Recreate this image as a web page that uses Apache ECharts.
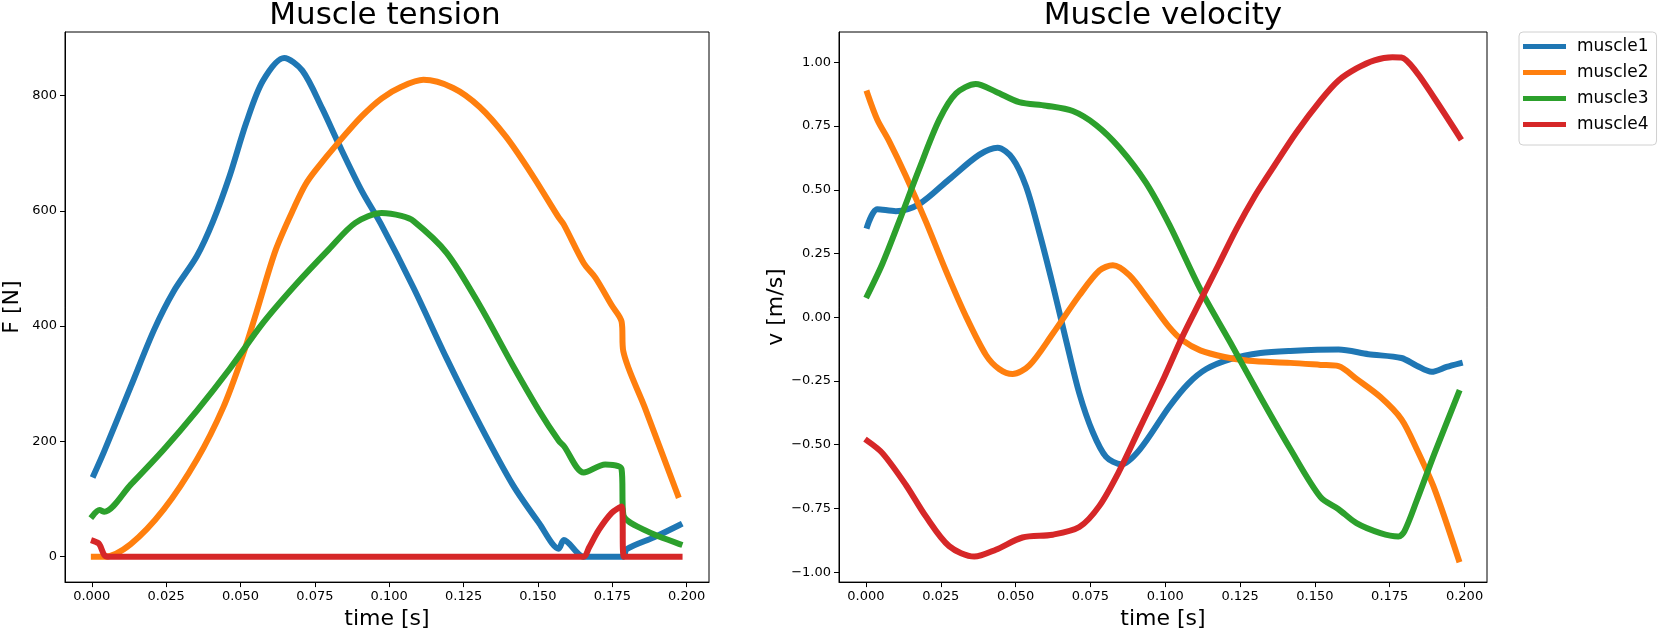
<!DOCTYPE html>
<html>
<head>
<meta charset="utf-8">
<script src="https://cdn.jsdelivr.net/npm/echarts@6/dist/echarts.min.js"></script>
<style>
  html, body { margin: 0; padding: 0; background: #fff; }
  #main { width: 1661px; height: 635px; }
</style>
</head>
<body>
<div id="main"></div>
<script>
const muscleNames = ['muscle1', 'muscle2', 'muscle3', 'muscle4'];
const muscleColors = ['#1f77b4', '#ff7f0e', '#2ca02c', '#d62728'];

const timeTicks = [0, 0.025, 0.05, 0.075, 0.1, 0.125, 0.15, 0.175, 0.2];
const tensionTicks = [0, 200, 400, 600, 800];
const velocityTicks = [-1, -0.75, -0.5, -0.25, 0, 0.25, 0.5, 0.75, 1];

// tension [time, F]
const tension1 = [[0.0007,142],[0.0042,183],[0.0131,295],[0.0209,393],[0.0275,460],[0.0353,521],[0.0408,582],[0.0464,661],[0.0519,752],[0.0575,825],[0.0647,865],[0.0708,843],[0.0775,777],[0.083,716],[0.0908,634],[0.0971,578],[0.1082,466],[0.1193,344],[0.1304,230],[0.1415,125],[0.1504,58],[0.157,14],[0.1587,29],[0.1654,0],[0.172,0],[0.1787,0],[0.1798,13],[0.1892,34],[0.1976,55]];
const tension2 = [[0.0007,0],[0.0042,0],[0.0131,22],[0.0242,82],[0.0353,168],[0.0442,259],[0.0508,350],[0.0553,423],[0.0619,533],[0.0686,612],[0.0719,646],[0.0752,670],[0.083,719],[0.0908,764],[0.0975,795],[0.1041,815],[0.1115,827],[0.1215,813],[0.1304,780],[0.1393,728],[0.1482,661],[0.157,588],[0.1587,576],[0.1654,509],[0.1693,484],[0.1748,436],[0.1781,408],[0.1787,356],[0.1859,259],[0.197,107]];
const tension3 = [[0.0003,71],[0.0026,81],[0.0042,78],[0.0131,125],[0.0242,186],[0.0353,253],[0.0464,326],[0.0575,405],[0.0686,472],[0.0797,533],[0.0886,579],[0.0975,596],[0.1041,591],[0.1082,582],[0.1193,527],[0.1304,436],[0.1415,332],[0.1504,253],[0.157,201],[0.1587,192],[0.1654,146],[0.1726,160],[0.1781,152],[0.1787,73],[0.1859,46],[0.1976,22]];
const tension4 = [[0.0007,27],[0.0025,22],[0.0042,3],[0.0055,0],[0.01,0],[0.16,0],[0.1654,0],[0.1671,15],[0.1704,46],[0.1748,76],[0.1781,87],[0.1789,0],[0.185,0],[0.1976,0]];

// velocity [time, v]
const velocity1 = [[0.0005,0.359],[0.0038,0.424],[0.01,0.416],[0.0178,0.444],[0.0278,0.541],[0.0378,0.637],[0.044,0.665],[0.049,0.623],[0.0535,0.513],[0.0579,0.334],[0.0624,0.128],[0.0669,-0.092],[0.0713,-0.299],[0.0758,-0.451],[0.0802,-0.547],[0.0853,-0.577],[0.0914,-0.52],[0.1014,-0.35],[0.1077,-0.26],[0.1137,-0.203],[0.1218,-0.164],[0.1318,-0.14],[0.1418,-0.132],[0.1579,-0.127],[0.1679,-0.145],[0.1789,-0.16],[0.184,-0.19],[0.189,-0.214],[0.194,-0.195],[0.1984,-0.181]];
const velocity2 = [[0.0005,0.878],[0.0038,0.775],[0.0077,0.692],[0.0133,0.555],[0.02,0.376],[0.0267,0.183],[0.0334,0.004],[0.0401,-0.148],[0.0445,-0.203],[0.049,-0.223],[0.0546,-0.189],[0.0624,-0.065],[0.0713,0.086],[0.078,0.183],[0.0825,0.204],[0.088,0.165],[0.0947,0.065],[0.1014,-0.04],[0.1057,-0.09],[0.1117,-0.13],[0.1198,-0.156],[0.1278,-0.171],[0.1418,-0.179],[0.1519,-0.187],[0.1579,-0.192],[0.1639,-0.242],[0.1719,-0.313],[0.1789,-0.4],[0.184,-0.517],[0.19,-0.675],[0.198,-0.95]];
const velocity3 = [[0.0005,0.086],[0.0055,0.21],[0.0111,0.376],[0.0178,0.582],[0.0245,0.775],[0.0301,0.878],[0.0367,0.915],[0.0434,0.885],[0.0512,0.844],[0.0602,0.83],[0.0691,0.809],[0.0769,0.754],[0.0847,0.665],[0.0936,0.527],[0.1014,0.362],[0.1117,0.11],[0.1218,-0.1],[0.1318,-0.313],[0.1418,-0.517],[0.1519,-0.706],[0.1579,-0.753],[0.1639,-0.808],[0.1719,-0.847],[0.1779,-0.86],[0.1799,-0.84],[0.184,-0.72],[0.19,-0.533],[0.198,-0.297]];
const velocity4 = [[0.0005,-0.485],[0.0055,-0.533],[0.0133,-0.657],[0.02,-0.781],[0.0278,-0.898],[0.0362,-0.939],[0.0434,-0.912],[0.0523,-0.864],[0.0624,-0.853],[0.0713,-0.823],[0.078,-0.74],[0.0847,-0.602],[0.0914,-0.437],[0.0997,-0.234],[0.1057,-0.077],[0.1117,0.064],[0.1178,0.206],[0.1238,0.347],[0.1298,0.473],[0.1358,0.583],[0.1438,0.725],[0.1519,0.851],[0.1579,0.929],[0.1639,0.976],[0.1699,1.008],[0.1759,1.02],[0.1789,1.019],[0.184,0.961],[0.19,0.858],[0.1984,0.706]];

const tensionData = [tension1, tension2, tension3, tension4];
const velocityData = [velocity1, velocity2, velocity3, velocity4];

const FONT = 'DejaVu Sans';

function timeAxis(gridIndex) {
  return {
    type: 'value',
    gridIndex: gridIndex,
    min: -0.009,
    max: 0.2075,
    name: 'time [s]',
    nameLocation: 'middle',
    nameGap: 22,
    nameTextStyle: {fontFamily: FONT, fontSize: 22, color: '#000'},
    axisLine: {show: true, onZero: false, lineStyle: {color: '#000', width: 1}},
    axisTick: {show: true, length: 5, lineStyle: {color: '#000'}, customValues: timeTicks},
    axisLabel: {
      fontFamily: FONT, fontSize: 13, color: '#000', margin: 8,
      customValues: timeTicks,
      formatter: (v) => v.toFixed(3)
    },
    splitLine: {show: false}
  }
}

function minus(s) {
  return s.replace('-', '\u2212')
}

let option = {
  animation: false,
  title: [
    {text: 'Muscle tension', left: 385, top: 0, textAlign: 'center', padding: 0,
      textStyle: {fontFamily: FONT, fontSize: 31, fontWeight: 'normal', color: '#000'}},
    {text: 'Muscle velocity', left: 1163, top: 0, textAlign: 'center', padding: 0,
      textStyle: {fontFamily: FONT, fontSize: 31, fontWeight: 'normal', color: '#000'}}
  ],
  legend: {
    data: muscleNames,
    orient: 'vertical',
    left: 1519,
    top: 32,
    icon: 'rect',
    itemWidth: 43,
    itemHeight: 5,
    itemGap: 9,
    padding: [6, 8, 12, 4],
    backgroundColor: '#fff',
    borderColor: '#d0d0d0',
    borderWidth: 1,
    borderRadius: 4,
    textStyle: {fontFamily: FONT, fontSize: 17, color: '#000', padding: [0, 0, 0, 6]}
  },
  grid: [
    {left: 61, top: 32, width: 648, height: 556, containLabel: false, show: true, borderColor: '#000', borderWidth: 1},
    {left: 839, top: 32, width: 648, height: 556, containLabel: false, show: true, borderColor: '#000', borderWidth: 1}
  ],
  xAxis: [timeAxis(0), timeAxis(1)],
  yAxis: [
    {
      type: 'value', gridIndex: 0, min: -44, max: 910,
      name: 'F [N]', nameLocation: 'middle', nameGap: 42, nameRotate: 90,
      nameTextStyle: {fontFamily: FONT, fontSize: 22, color: '#000'},
      axisLine: {show: true, onZero: false, lineStyle: {color: '#000', width: 1}},
      axisTick: {show: true, length: 5, lineStyle: {color: '#000'}, customValues: tensionTicks},
      axisLabel: {fontFamily: FONT, fontSize: 13, color: '#000', margin: 8, customValues: tensionTicks,
        formatter: (v) => String(Math.round(v))},
      splitLine: {show: false}
    },
    {
      type: 'value', gridIndex: 1, min: -1.039, max: 1.119,
      name: 'v [m/s]', nameLocation: 'middle', nameGap: 52, nameRotate: 90,
      nameTextStyle: {fontFamily: FONT, fontSize: 22, color: '#000'},
      axisLine: {show: true, onZero: false, lineStyle: {color: '#000', width: 1}},
      axisTick: {show: true, length: 5, lineStyle: {color: '#000'}, customValues: velocityTicks},
      axisLabel: {fontFamily: FONT, fontSize: 13, color: '#000', margin: 8, customValues: velocityTicks,
        formatter: (v) => minus(v.toFixed(2))},
      splitLine: {show: false}
    }
  ],
  series: []
};

function addLines(dataList, axisIndex) {
  dataList.forEach((data, i) => {
    option.series.push({
      name: muscleNames[i],
      type: 'line',
      xAxisIndex: axisIndex,
      yAxisIndex: axisIndex,
      data: data,
      symbol: 'none',
      smooth: 0.3,
      color: muscleColors[i],
      lineStyle: {width: 6, color: muscleColors[i], cap: 'square', join: 'round'}
    })
  })
}

addLines(tensionData, 0)
addLines(velocityData, 1)

var myChart = echarts.init(document.getElementById('main'));
myChart.setOption(option);
</script>
</body>
</html>
